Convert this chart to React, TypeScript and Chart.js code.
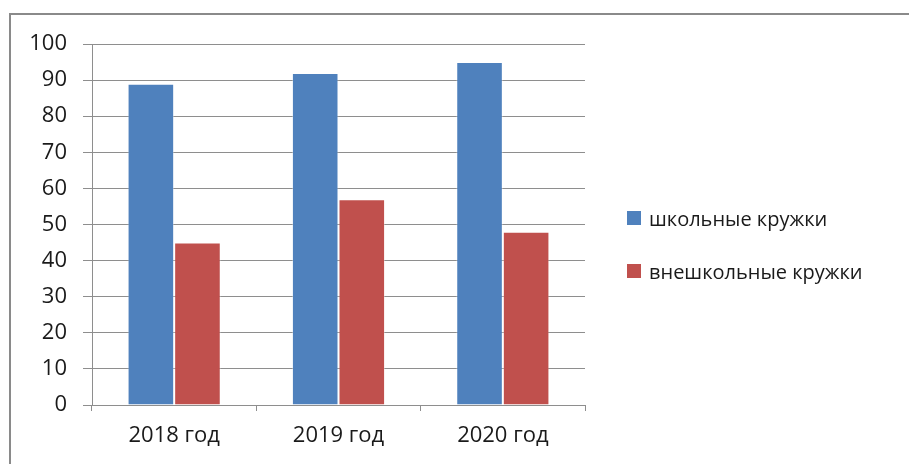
import React, { useEffect, useRef } from "react";
import { Chart, registerables } from "chart.js";

Chart.register(...registerables);

const categories = ["2018 год", "2019 год", "2020 год"];
const seriesNames = ["школьные кружки", "внешкольные кружки"];
const schoolValues = [89, 92, 95];
const outsideValues = [45, 57, 48];
const colors = ["#4F81BD", "#C0504D"];

const FONT = "'Open Sans', 'Noto Sans', sans-serif";

export default function App() {
  const ref = useRef<HTMLCanvasElement | null>(null);

  useEffect(() => {
    if (!ref.current) return;
    const chart = new Chart(ref.current, {
      type: "bar",
      data: {
        labels: categories,
        datasets: [
          {
            label: seriesNames[0],
            data: schoolValues,
            backgroundColor: colors[0],
            borderColor: "rgba(255,255,255,0.35)",
            borderWidth: 1,
            categoryPercentage: 0.567,
            barPercentage: 1,
          },
          {
            label: seriesNames[1],
            data: outsideValues,
            backgroundColor: colors[1],
            borderColor: "rgba(255,255,255,0.35)",
            borderWidth: 1,
            categoryPercentage: 0.567,
            barPercentage: 1,
          },
        ],
      },
      options: {
        animation: false,
        responsive: false,
        maintainAspectRatio: false,
        layout: { padding: { left: 0, top: 44, right: 324, bottom: 0 } },
        plugins: {
          legend: { display: false },
          tooltip: { enabled: false },
        },
        scales: {
          x: {
            afterFit: (s: any) => {
              s.height = 59;
            },
            grid: {
              offset: true,
              drawOnChartArea: false,
              drawTicks: true,
              tickLength: 6,
              color: "#8e8e8e",
            },
            border: { color: "#8e8e8e", width: 1 },
            ticks: {
              color: "#1a1a1a",
              font: { family: FONT, size: 22 },
              padding: 12,
            },
          },
          y: {
            min: 0,
            max: 100,
            afterFit: (s: any) => {
              s.width = 92;
            },
            grid: {
              color: "#8e8e8e",
              tickLength: 9,
            },
            border: { color: "#8e8e8e", width: 1 },
            ticks: {
              stepSize: 10,
              color: "#1a1a1a",
              font: { family: FONT, size: 22 },
              padding: 16,
            },
          },
        },
      },
    });
    return () => chart.destroy();
  }, []);

  return (
    <div
      style={{
        position: "absolute",
        left: 0,
        top: 0,
        width: 909,
        height: 464,
        overflow: "hidden",
        background: "#fff",
      }}
    >
      <div
        style={{
          position: "absolute",
          left: 9,
          top: 13,
          width: 1000,
          height: 600,
          borderLeft: "2px solid #8a8a8a",
          borderTop: "2px solid #8a8a8a",
        }}
      />
      <canvas
        ref={ref}
        width={909}
        height={464}
        style={{ position: "absolute", left: 0, top: 0, width: 909, height: 464 }}
      />
      {seriesNames.map((name, i) => (
        <div
          key={name}
          style={{
            position: "absolute",
            left: 627,
            top: 204 + i * 53,
            height: 28,
            display: "flex",
            alignItems: "center",
            fontFamily: FONT,
            fontSize: 20,
            color: "#1a1a1a",
            whiteSpace: "nowrap",
          }}
        >
          <span
            style={{
              display: "inline-block",
              width: 14,
              height: 14,
              background: colors[i],
              marginRight: 8,
            }}
          />
          {name}
        </div>
      ))}
    </div>
  );
}
